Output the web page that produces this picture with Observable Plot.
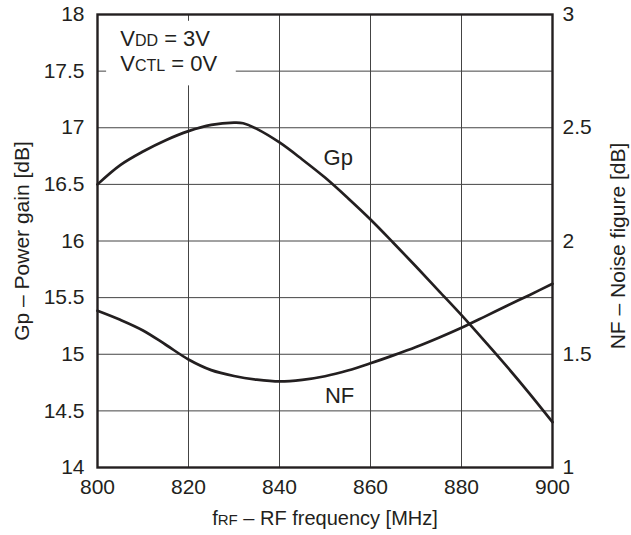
<!DOCTYPE html>
<html><head><meta charset="utf-8">
<script src="https://cdn.jsdelivr.net/npm/d3@7"></script>
<script src="https://cdn.jsdelivr.net/npm/@observablehq/plot@0.6"></script>
<style>
body{margin:0;background:#fff}
svg{font-family:"Liberation Sans",Arial,Helvetica,sans-serif}
</style>
</head><body><div id="chart"></div>
<script>
// Power gain Gp [dB] vs RF frequency [MHz]
const gpFreq = [800,805,810,815,820,825,830,832,835,840,845,850,855,860,865,870,875,880,885,890,895,900];
const gp     = [16.5,16.67,16.79,16.89,16.97,17.025,17.045,17.04,16.99,16.87,16.72,16.56,16.38,16.19,15.985,15.775,15.56,15.345,15.12,14.89,14.65,14.4];
// Noise figure NF [dB] vs RF frequency [MHz]
const nfFreq = [800,805,810,815,820,825,830,835,840,845,850,855,860,865,870,875,880,885,890,895,900];
const nf     = [1.692,1.652,1.605,1.542,1.477,1.43,1.404,1.388,1.38,1.387,1.403,1.428,1.46,1.495,1.532,1.573,1.617,1.665,1.714,1.762,1.811];

// Axis ticks
const xTicks = [800,820,840,860,880,900];
const gpTicks = [14,14.5,15,15.5,16,16.5,17,17.5,18];
const nfTicks = [1,1.5,2,2.5,3];

// Condition note & curve labels
const notes = [
  {x: 805, y: 17.726, parts: [["V",22],["DD",16],[" = 3V",22]]},
  {x: 805, y: 17.499, parts: [["V",22],["CTL",16],[" = 0V",22]]}
];
const noteBox = [{x1: 802, x2: 830.5, y1: 17.37, y2: 17.94}];
const curveLabels = [{x: 852.9, gp: 16.737, text: "Gp"}, {x: 853.2, nf: 1.318, text: "NF"}];

// NF right axis is mapped onto the Gp scale: NF 1..3 <-> Gp 14..18
const nfToGp = v => 14 + (v - 1) * 2;
const gpToNf = v => 1 + (v - 14) / 2;

const gpData = gpFreq.map((f, i) => ({f, v: gp[i]}));
const nfData = nfFreq.map((f, i) => ({f, v: nfToGp(nf[i])}));
const lblData = curveLabels.map(d => ({x: d.x, y: d.gp != null ? d.gp : nfToGp(d.nf), text: d.text}));

const ink = "#231f20";
const chart = Plot.plot({
  width: 631, height: 535,
  marginLeft: 97, marginRight: 79, marginTop: 14, marginBottom: 68,
  style: {fontFamily: '"Liberation Sans", Arial, sans-serif', fontSize: "20px", color: ink, background: "#fff"},
  x: {domain: [800, 900]},
  y: {domain: [14, 18]},
  marks: [
    Plot.gridX(xTicks.slice(1, -1), {stroke: "#444", strokeOpacity: 1, strokeWidth: 1}),
    Plot.gridY(gpTicks.slice(1, -1), {stroke: "#444", strokeOpacity: 1, strokeWidth: 1}),
    Plot.rect(noteBox, {x1: "x1", x2: "x2", y1: "y1", y2: "y2", fill: "#fff"}),
    Plot.line(gpData, {x: "f", y: "v", stroke: ink, strokeWidth: 2.7, curve: "catmull-rom"}),
    Plot.line(nfData, {x: "f", y: "v", stroke: ink, strokeWidth: 2.7, curve: "catmull-rom"}),
    Plot.frame({stroke: ink, strokeWidth: 2.4}),
    Plot.axisX(xTicks, {tickSize: 0, tickPadding: 12, fontSize: 21, tickFormat: d => String(d), label: "fRF – RF frequency [MHz]", labelAnchor: "center", labelOffset: 57, labelArrow: "none"}),
    Plot.axisY(gpTicks, {anchor: "left", tickSize: 0, tickPadding: 13, fontSize: 21, tickFormat: d => String(d), label: "Gp – Power gain [dB]", labelAnchor: "center", labelOffset: 83, labelArrow: "none"}),
    Plot.axisY(nfTicks.map(nfToGp), {anchor: "right", tickSize: 0, tickPadding: 10, fontSize: 21, tickFormat: d => String(gpToNf(d)), label: "NF – Noise figure [dB]", labelAnchor: "center", labelOffset: 72, labelArrow: "none"}),
    Plot.text(notes, {x: "x", y: "y", text: d => d.parts.map(p => p[0]).join(""), textAnchor: "start", lineAnchor: "bottom", fontSize: 22, fill: ink, className: "note"}),
    Plot.text(lblData, {x: "x", y: "y", text: "text", fontSize: 22, fill: ink})
  ]
});
document.getElementById("chart").appendChild(chart);

// Render small-caps parts with smaller font via tspans
function rich(el, parts) {
  const t = d3.select(el);
  t.text(null);
  parts.forEach(([s, size]) => t.append("tspan").attr("font-size", size).text(s));
}
const svg = d3.select(chart);
svg.selectAll(".note text").each(function(d, i) { rich(this, notes[i].parts); });
svg.selectAll('[aria-label="x-axis label"] text').each(function() {
  rich(this, [["f",20],["RF",15],[" – RF frequency [MHz]",20]]);
});
const yLabels = svg.selectAll('[aria-label="y-axis label"] text').nodes();
if (yLabels.length > 1) d3.select(yLabels[yLabels.length - 1]).attr("dx", -5);
</script>
</body></html>
